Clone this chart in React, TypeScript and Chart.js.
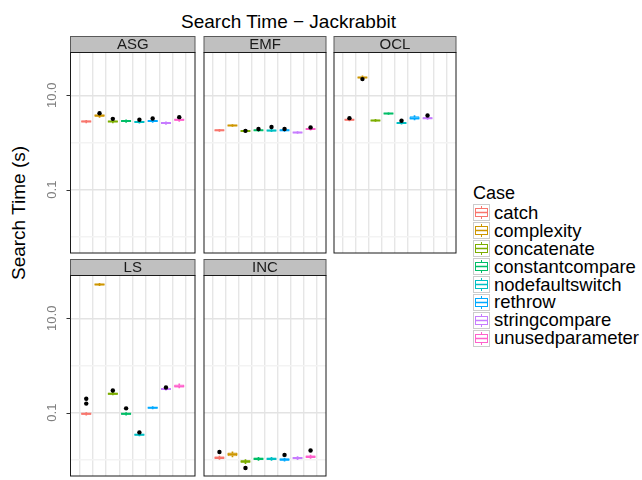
import React, { useEffect, useRef } from "react";
import { Chart, registerables } from "chart.js";

Chart.register(...registerables);

// ---- data ----------------------------------------------------------------
const cases = [
  "catch",
  "complexity",
  "concatenate",
  "constantcompare",
  "nodefaultswitch",
  "rethrow",
  "stringcompare",
  "unusedparameter",
];
const caseColors = ["#F8766D", "#CD9600", "#7CAE00", "#00BE67", "#00BFC4", "#00A9FF", "#C77CFF", "#FF61CC"];

// shared log10 y axis (seconds)
const yMin = 0.00453;
const yMax = 80.5;
const yMajor = [0.1, 10];
const yMajorLabels = ["0.1", "10.0"];
const yMinor = [0.01, 1];

// ASG
const asgMedian = [2.78, 3.71, 2.78, 2.83, 2.72, 2.83, 2.57, 3.01];
const asgLower = [2.66, 3.5, 2.66, 2.71, 2.61, 2.71, 2.47, 2.88];
const asgUpper = [2.9, 3.86, 2.89, 2.95, 2.83, 2.96, 2.67, 3.14];
const asgWhiskerLow = [2.6, 3.4, 2.6, 2.66, 2.55, 2.64, 2.42, 2.8];
const asgWhiskerHigh = [2.95, 3.98, 2.96, 3.0, 2.9, 3.05, 2.72, 3.22];
const asgOutliers = [[1, 4.16], [2, 3.16], [4, 3.02], [5, 3.21], [7, 3.43]];

// EMF
const emfMedian = [1.8, 2.29, 1.75, 1.8, 1.78, 1.8, 1.62, 1.93];
const emfLower = [1.73, 2.22, 1.69, 1.74, 1.71, 1.73, 1.57, 1.86];
const emfUpper = [1.87, 2.36, 1.81, 1.86, 1.85, 1.87, 1.67, 2.0];
const emfWhiskerLow = [1.7, 2.18, 1.64, 1.7, 1.68, 1.7, 1.55, 1.82];
const emfWhiskerHigh = [1.9, 2.4, 1.85, 1.9, 1.9, 1.91, 1.7, 2.04];
const emfOutliers = [[2, 1.76], [3, 1.92], [4, 2.12], [5, 1.92], [7, 2.08]];

// OCL (no unusedparameter runs)
const oclMedian = [3.01, 23.7, 2.92, 4.08, 2.57, 3.27, 3.27, null];
const oclLower = [2.9, 22.9, 2.82, 3.95, 2.47, 3.05, 3.13, null];
const oclUpper = [3.12, 24.5, 3.02, 4.2, 2.66, 3.58, 3.42, null];
const oclWhiskerLow = [2.85, 22.6, 2.78, 3.9, 2.43, 3.0, 3.08, null];
const oclWhiskerHigh = [3.18, 25.8, 3.07, 4.25, 2.7, 3.7, 3.48, null];
const oclOutliers = [[0, 3.27], [1, 22.0], [4, 2.87], [6, 3.72]];

// LS
const lsMedian = [0.094, 52, 0.251, 0.094, 0.034, 0.127, 0.315, 0.361];
const lsLower = [0.09, 50, 0.24, 0.09, 0.0325, 0.122, 0.302, 0.34];
const lsUpper = [0.098, 54, 0.262, 0.098, 0.0355, 0.132, 0.328, 0.392];
const lsWhiskerLow = [0.088, 49, 0.236, 0.088, 0.032, 0.12, 0.297, 0.333];
const lsWhiskerHigh = [0.1, 55, 0.268, 0.1, 0.036, 0.134, 0.335, 0.405];
const lsOutliers = [[0, 0.197], [0, 0.155], [2, 0.295], [3, 0.123], [4, 0.038], [6, 0.341]];

// INC
const incMedian = [0.0111, 0.0131, 0.0092, 0.0105, 0.0105, 0.0101, 0.0109, 0.0116];
const incLower = [0.0104, 0.0119, 0.0086, 0.0099, 0.0099, 0.0095, 0.0103, 0.0109];
const incUpper = [0.0118, 0.0143, 0.0098, 0.0111, 0.0111, 0.0107, 0.0115, 0.0123];
const incWhiskerLow = [0.0102, 0.0115, 0.0083, 0.0097, 0.0097, 0.0093, 0.0101, 0.0107];
const incWhiskerHigh = [0.012, 0.0147, 0.0101, 0.0113, 0.0113, 0.0109, 0.0117, 0.0125];
const incOutliers = [[0, 0.0146], [2, 0.0067], [5, 0.0127], [7, 0.0157]];

type Facet = {
  name: string;
  median: (number | null)[];
  lower: (number | null)[];
  upper: (number | null)[];
  lo: (number | null)[];
  hi: (number | null)[];
  outliers: number[][];
};

const facets: Facet[] = [
  { name: "ASG", median: asgMedian, lower: asgLower, upper: asgUpper, lo: asgWhiskerLow, hi: asgWhiskerHigh, outliers: asgOutliers },
  { name: "EMF", median: emfMedian, lower: emfLower, upper: emfUpper, lo: emfWhiskerLow, hi: emfWhiskerHigh, outliers: emfOutliers },
  { name: "OCL", median: oclMedian, lower: oclLower, upper: oclUpper, lo: oclWhiskerLow, hi: oclWhiskerHigh, outliers: oclOutliers },
  { name: "LS", median: lsMedian, lower: lsLower, upper: lsUpper, lo: lsWhiskerLow, hi: lsWhiskerHigh, outliers: lsOutliers },
  { name: "INC", median: incMedian, lower: incLower, upper: incUpper, lo: incWhiskerLow, hi: incWhiskerHigh, outliers: incOutliers },
];

// ---- drawing -------------------------------------------------------------
const FONT = '"Liberation Sans", Arial, Helvetica, sans-serif';
const STRIP_H = 16;

const colorOf = (ctx: any) => caseColors[(ctx.raw?.x ?? 1) - 1];

function makeFramePlugin(label: string, axis: boolean) {
  return {
    id: "facetFrame",
    afterDraw(chart: any) {
      const { ctx, chartArea: a } = chart;
      ctx.save();
      // strip
      ctx.fillStyle = "#c0c0c0";
      ctx.fillRect(a.left, a.top - STRIP_H, a.right - a.left, STRIP_H);
      ctx.strokeStyle = "#5a5a5a";
      ctx.lineWidth = 1;
      ctx.strokeRect(a.left, a.top - STRIP_H, a.right - a.left, STRIP_H);
      ctx.fillStyle = "#1a1a1a";
      ctx.font = `15px ${FONT}`;
      ctx.textAlign = "center";
      ctx.textBaseline = "middle";
      ctx.fillText(label, (a.left + a.right) / 2, a.top - STRIP_H / 2 + 0.5);
      // panel border
      ctx.strokeStyle = "#1a1a1a";
      ctx.strokeRect(a.left, a.top, a.right - a.left, a.bottom - a.top);
      // left axis ticks and rotated labels
      if (axis) {
        const s = chart.scales.y;
        ctx.strokeStyle = "#333333";
        ctx.fillStyle = "#7f7f7f";
        ctx.font = `13px ${FONT}`;
        ctx.textAlign = "center";
        ctx.textBaseline = "alphabetic";
        yMajor.forEach((v, i) => {
          const py = s.getPixelForValue(v);
          const ly = Math.round(py) + 0.5;
          ctx.beginPath();
          ctx.moveTo(a.left - 4, ly);
          ctx.lineTo(a.left, ly);
          ctx.stroke();
          ctx.save();
          ctx.translate(a.left - 15, py);
          ctx.rotate(-Math.PI / 2);
          ctx.fillText(yMajorLabels[i], 0, 0);
          ctx.restore();
        });
      }
      ctx.restore();
    },
  };
}

type PanelProps = {
  facet: Facet;
  left: number;
  top: number;
  width: number;
  height: number;
  pad: { left: number; right: number; top: number; bottom: number };
  axis: boolean;
};

function FacetPanel({ facet, left, top, width, height, pad, axis }: PanelProps) {
  const ref = useRef<HTMLCanvasElement>(null);

  useEffect(() => {
    const idx = cases.map((_, i) => i).filter((i) => facet.median[i] != null);

    const whiskers = {
      type: "bar",
      data: idx.map((i) => ({ x: i + 1, y: [facet.lo[i], facet.hi[i]] })),
      backgroundColor: colorOf,
      borderWidth: 0,
      grouped: false,
      barPercentage: 1,
      categoryPercentage: 1,
      maxBarThickness: 1,
      order: 4,
    };
    const boxes = {
      type: "bar",
      data: idx.map((i) => ({ x: i + 1, y: [facet.lower[i], facet.upper[i]] })),
      backgroundColor: "#ffffff",
      borderColor: colorOf,
      borderWidth: 1,
      borderSkipped: false,
      grouped: false,
      barPercentage: 0.75,
      categoryPercentage: 1,
      order: 3,
    };
    const medians = {
      type: "scatter",
      data: idx.map((i) => ({ x: i + 1, y: facet.median[i] })),
      pointStyle: "line",
      pointRadius: (ctx: any) => {
        const s = ctx.chart.scales.x;
        return s.getPixelForValue(1.375) - s.getPixelForValue(1);
      },
      borderColor: colorOf,
      pointBorderColor: colorOf,
      pointBorderWidth: 2,
      order: 2,
    };
    const outliers = {
      type: "scatter",
      data: facet.outliers.map(([i, v]) => ({ x: i + 1, y: v })),
      pointStyle: "circle",
      pointRadius: 2.2,
      pointBackgroundColor: "#000000",
      pointBorderWidth: 0,
      order: 1,
    };

    const chart = new Chart(ref.current as HTMLCanvasElement, {
      type: "bar",
      data: { datasets: [whiskers, boxes, medians, outliers] as any },
      options: {
        animation: false,
        responsive: false,
        maintainAspectRatio: false,
        events: [],
        layout: { padding: pad },
        plugins: {
          legend: { display: false },
          tooltip: { enabled: false },
          title: { display: false },
        },
        scales: {
          x: {
            type: "linear",
            min: 0.4,
            max: 8.6,
            afterBuildTicks: (s: any) => {
              s.ticks = cases.map((_, i) => ({ value: i + 1 }));
            },
            afterFit: (s: any) => {
              s.height = 0;
            },
            ticks: { display: false },
            grid: { color: "#e6e6e6", lineWidth: 1.4, drawTicks: false },
            border: { display: false },
          },
          y: {
            type: "logarithmic",
            min: yMin,
            max: yMax,
            afterBuildTicks: (s: any) => {
              s.ticks = [...yMinor, ...yMajor].map((v) => ({ value: v }));
            },
            afterFit: (s: any) => {
              s.width = 0;
            },
            ticks: { display: false },
            grid: {
              color: (ctx: any) => (yMajor.includes(ctx.tick?.value) ? "#e3e3e3" : "#f3f3f3"),
              lineWidth: 1.4,
              drawTicks: false,
            },
            border: { display: false },
          },
        },
      } as any,
      plugins: [makeFramePlugin(facet.name, axis)],
    } as any);

    return () => chart.destroy();
  }, [facet, pad, axis]);

  return (
    <canvas
      ref={ref}
      width={width}
      height={height}
      style={{ position: "absolute", left, top, width, height }}
    />
  );
}

// panel placement: three columns, two rows
const colCanvas = [
  { left: 0, width: 199, pad: { left: 70.5, right: 1.5 } },
  { left: 200, width: 130, pad: { left: 1.5, right: 2.5 } },
  { left: 330, width: 130, pad: { left: 1.5, right: 1.5 } },
];
const rowCanvas = [
  { top: 36, height: 221 },
  { top: 259, height: 221 },
];

function LegendKey({ color }: { color: string }) {
  return (
    <svg width={17} height={17} style={{ display: "block" }}>
      <rect x={0.5} y={0.5} width={16} height={16} fill="#ffffff" stroke="#cccccc" />
      <line x1={8.5} y1={2} x2={8.5} y2={4.5} stroke={color} />
      <line x1={8.5} y1={12.5} x2={8.5} y2={15} stroke={color} />
      <rect x={2.5} y={4.5} width={12} height={8} fill="#ffffff" stroke={color} />
      <line x1={2.5} y1={8.5} x2={14.5} y2={8.5} stroke={color} strokeWidth={1.5} />
    </svg>
  );
}

export default function App() {
  return (
    <div
      style={{
        position: "fixed",
        left: 0,
        top: 0,
        width: 642,
        height: 480,
        overflow: "hidden",
        background: "#ffffff",
        fontFamily: FONT,
        color: "#000000",
      }}
    >
      <div
        style={{
          position: "absolute",
          left: 0,
          top: 12,
          width: 577,
          textAlign: "center",
          fontSize: 19,
          lineHeight: "19px",
          whiteSpace: "nowrap",
        }}
      >
        Search Time − Jackrabbit
      </div>

      <div
        style={{
          position: "absolute",
          left: 18,
          top: 213,
          transform: "translate(-50%, -50%) rotate(-90deg)",
          fontSize: 19,
          lineHeight: "19px",
          whiteSpace: "nowrap",
        }}
      >
        Search Time (s)
      </div>

      {facets.map((f, k) => {
        const col = colCanvas[k % 3];
        const row = rowCanvas[Math.floor(k / 3)];
        return (
          <FacetPanel
            key={f.name}
            facet={f}
            left={col.left}
            top={row.top}
            width={col.width}
            height={row.height}
            pad={{ left: col.pad.left, right: col.pad.right, top: 16.5, bottom: 0.5 }}
            axis={k % 3 === 0}
          />
        );
      })}

      <div style={{ position: "absolute", left: 473, top: 184 }}>
        <div style={{ fontSize: 18, lineHeight: "18px", marginBottom: 2, whiteSpace: "nowrap" }}>Case</div>
        {cases.map((c, i) => (
          <div key={c} style={{ display: "flex", alignItems: "center", height: 17.9 }}>
            <LegendKey color={caseColors[i]} />
            <span style={{ marginLeft: 4, fontSize: 18.5, lineHeight: "18px", whiteSpace: "nowrap" }}>{c}</span>
          </div>
        ))}
      </div>
    </div>
  );
}
